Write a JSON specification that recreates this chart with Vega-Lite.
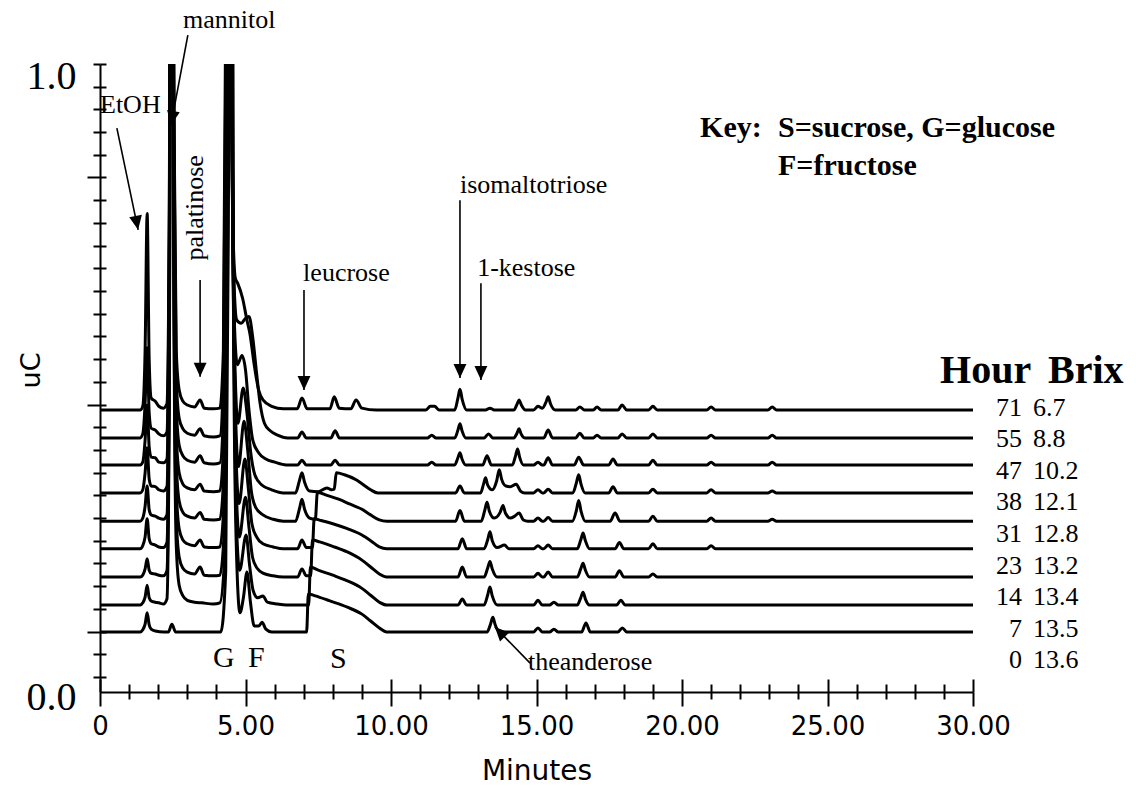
{
"$schema": "https://vega.github.io/schema/vega-lite/v6.json",
"autosize": {"type": "none"},
"width": 873, "height": 628,
"padding": {"left": 100, "top": 64, "right": 163, "bottom": 96},
"background": "white",
"config": {"view": {"stroke": null}, "axis": {"grid": false}},
"datasets": {
"traces": [
{"h":71,"t":0,"u":0.449},{"h":71,"t":1.38,"u":0.449},{"h":71,"t":1.47,"u":0.455},{"h":71,"t":1.55,"u":0.544},{"h":71,"t":1.62,"u":0.762},{"h":71,"t":1.69,"u":0.529},{"h":71,"t":1.76,"u":0.468},{"h":71,"t":1.9,"u":0.463},{"h":71,"t":2.02,"u":0.455},{"h":71,"t":2.18,"u":0.452},{"h":71,"t":2.3,"u":0.459},{"h":71,"t":2.38,"u":0.767},{"h":71,"t":2.46,"u":2.0},{"h":71,"t":2.54,"u":0.926},{"h":71,"t":2.62,"u":0.544},{"h":71,"t":2.72,"u":0.481},{"h":71,"t":2.85,"u":0.463},{"h":71,"t":3.0,"u":0.457},{"h":71,"t":3.25,"u":0.454},{"h":71,"t":3.44,"u":0.465},{"h":71,"t":3.58,"u":0.452},{"h":71,"t":3.9,"u":0.451},{"h":71,"t":4.12,"u":0.452},{"h":71,"t":4.24,"u":0.544},{"h":71,"t":4.32,"u":1.085},{"h":71,"t":4.41,"u":2.2},{"h":71,"t":4.5,"u":1.085},{"h":71,"t":4.58,"u":0.719},{"h":71,"t":4.65,"u":0.659},{"h":71,"t":4.73,"u":0.651},{"h":71,"t":4.9,"u":0.627},{"h":71,"t":5.05,"u":0.592},{"h":71,"t":5.15,"u":0.571},{"h":71,"t":5.3,"u":0.521},{"h":71,"t":5.45,"u":0.481},{"h":71,"t":5.6,"u":0.465},{"h":71,"t":5.9,"u":0.455},{"h":71,"t":6.3,"u":0.451},{"h":71,"t":6.78,"u":0.451},{"h":71,"t":6.94,"u":0.468},{"h":71,"t":7.12,"u":0.451},{"h":71,"t":7.9,"u":0.451},{"h":71,"t":8.05,"u":0.47},{"h":71,"t":8.22,"u":0.452},{"h":71,"t":8.62,"u":0.451},{"h":71,"t":8.8,"u":0.465},{"h":71,"t":9.0,"u":0.452},{"h":71,"t":9.5,"u":0.449},{"h":71,"t":11.2,"u":0.449},{"h":71,"t":11.35,"u":0.455},{"h":71,"t":11.5,"u":0.455},{"h":71,"t":11.65,"u":0.449},{"h":71,"t":12.19,"u":0.449},{"h":71,"t":12.3,"u":0.468},{"h":71,"t":12.37,"u":0.482},{"h":71,"t":12.45,"u":0.465},{"h":71,"t":12.6,"u":0.449},{"h":71,"t":13.25,"u":0.449},{"h":71,"t":13.4,"u":0.452},{"h":71,"t":13.55,"u":0.449},{"h":71,"t":14.22,"u":0.449},{"h":71,"t":14.33,"u":0.458},{"h":71,"t":14.4,"u":0.465},{"h":71,"t":14.48,"u":0.457},{"h":71,"t":14.62,"u":0.449},{"h":71,"t":14.9,"u":0.449},{"h":71,"t":15.05,"u":0.455},{"h":71,"t":15.2,"u":0.452},{"h":71,"t":15.33,"u":0.462},{"h":71,"t":15.4,"u":0.47},{"h":71,"t":15.48,"u":0.459},{"h":71,"t":15.65,"u":0.449},{"h":71,"t":16.35,"u":0.449},{"h":71,"t":16.49,"u":0.454},{"h":71,"t":16.65,"u":0.449},{"h":71,"t":16.95,"u":0.449},{"h":71,"t":17.08,"u":0.454},{"h":71,"t":17.22,"u":0.449},{"h":71,"t":17.8,"u":0.449},{"h":71,"t":17.94,"u":0.457},{"h":71,"t":18.1,"u":0.449},{"h":71,"t":18.85,"u":0.449},{"h":71,"t":19.0,"u":0.455},{"h":71,"t":19.15,"u":0.449},{"h":71,"t":20.85,"u":0.449},{"h":71,"t":21.0,"u":0.454},{"h":71,"t":21.15,"u":0.449},{"h":71,"t":22.95,"u":0.449},{"h":71,"t":23.1,"u":0.454},{"h":71,"t":23.25,"u":0.449},{"h":71,"t":30,"u":0.449},
{"h":55,"t":0,"u":0.4045},{"h":55,"t":1.38,"u":0.4045},{"h":55,"t":1.47,"u":0.411},{"h":55,"t":1.55,"u":0.46},{"h":55,"t":1.62,"u":0.548},{"h":55,"t":1.69,"u":0.444},{"h":55,"t":1.76,"u":0.42},{"h":55,"t":1.9,"u":0.417},{"h":55,"t":2.02,"u":0.411},{"h":55,"t":2.18,"u":0.408},{"h":55,"t":2.3,"u":0.414},{"h":55,"t":2.38,"u":0.723},{"h":55,"t":2.46,"u":2.0},{"h":55,"t":2.54,"u":0.882},{"h":55,"t":2.62,"u":0.5},{"h":55,"t":2.72,"u":0.436},{"h":55,"t":2.85,"u":0.419},{"h":55,"t":3.0,"u":0.412},{"h":55,"t":3.25,"u":0.409},{"h":55,"t":3.44,"u":0.419},{"h":55,"t":3.58,"u":0.408},{"h":55,"t":3.9,"u":0.406},{"h":55,"t":4.12,"u":0.408},{"h":55,"t":4.24,"u":0.5},{"h":55,"t":4.33,"u":1.04},{"h":55,"t":4.42,"u":2.2},{"h":55,"t":4.51,"u":1.04},{"h":55,"t":4.6,"u":0.659},{"h":55,"t":4.7,"u":0.592},{"h":55,"t":4.85,"u":0.587},{"h":55,"t":5.0,"u":0.595},{"h":55,"t":5.12,"u":0.598},{"h":55,"t":5.25,"u":0.564},{"h":55,"t":5.38,"u":0.508},{"h":55,"t":5.5,"u":0.46},{"h":55,"t":5.65,"u":0.428},{"h":55,"t":5.85,"u":0.416},{"h":55,"t":6.1,"u":0.409},{"h":55,"t":6.45,"u":0.4045},{"h":55,"t":6.79,"u":0.4045},{"h":55,"t":6.94,"u":0.414},{"h":55,"t":7.09,"u":0.4045},{"h":55,"t":7.93,"u":0.4045},{"h":55,"t":8.08,"u":0.416},{"h":55,"t":8.23,"u":0.4045},{"h":55,"t":11.25,"u":0.4045},{"h":55,"t":11.4,"u":0.409},{"h":55,"t":11.55,"u":0.4045},{"h":55,"t":12.19,"u":0.4045},{"h":55,"t":12.3,"u":0.417},{"h":55,"t":12.37,"u":0.427},{"h":55,"t":12.44,"u":0.416},{"h":55,"t":12.57,"u":0.4045},{"h":55,"t":13.2,"u":0.4045},{"h":55,"t":13.35,"u":0.411},{"h":55,"t":13.5,"u":0.4045},{"h":55,"t":14.22,"u":0.4045},{"h":55,"t":14.33,"u":0.412},{"h":55,"t":14.4,"u":0.419},{"h":55,"t":14.47,"u":0.411},{"h":55,"t":14.6,"u":0.4045},{"h":55,"t":15.25,"u":0.4045},{"h":55,"t":15.4,"u":0.417},{"h":55,"t":15.55,"u":0.4045},{"h":55,"t":16.34,"u":0.4045},{"h":55,"t":16.49,"u":0.412},{"h":55,"t":16.64,"u":0.4045},{"h":55,"t":16.95,"u":0.4045},{"h":55,"t":17.08,"u":0.409},{"h":55,"t":17.22,"u":0.4045},{"h":55,"t":17.8,"u":0.4045},{"h":55,"t":17.94,"u":0.411},{"h":55,"t":18.1,"u":0.4045},{"h":55,"t":18.85,"u":0.4045},{"h":55,"t":19.0,"u":0.411},{"h":55,"t":19.15,"u":0.4045},{"h":55,"t":20.85,"u":0.4045},{"h":55,"t":21.0,"u":0.409},{"h":55,"t":21.15,"u":0.4045},{"h":55,"t":22.95,"u":0.4045},{"h":55,"t":23.1,"u":0.409},{"h":55,"t":23.25,"u":0.4045},{"h":55,"t":30,"u":0.4045},
{"h":47,"t":0,"u":0.3615},{"h":47,"t":1.38,"u":0.3615},{"h":47,"t":1.47,"u":0.366},{"h":47,"t":1.55,"u":0.401},{"h":47,"t":1.62,"u":0.457},{"h":47,"t":1.69,"u":0.39},{"h":47,"t":1.76,"u":0.374},{"h":47,"t":1.9,"u":0.373},{"h":47,"t":2.02,"u":0.366},{"h":47,"t":2.18,"u":0.365},{"h":47,"t":2.3,"u":0.371},{"h":47,"t":2.38,"u":0.68},{"h":47,"t":2.46,"u":2.0},{"h":47,"t":2.54,"u":0.839},{"h":47,"t":2.62,"u":0.457},{"h":47,"t":2.72,"u":0.393},{"h":47,"t":2.85,"u":0.376},{"h":47,"t":3.0,"u":0.369},{"h":47,"t":3.25,"u":0.366},{"h":47,"t":3.44,"u":0.376},{"h":47,"t":3.58,"u":0.365},{"h":47,"t":3.9,"u":0.363},{"h":47,"t":4.12,"u":0.365},{"h":47,"t":4.25,"u":0.457},{"h":47,"t":4.34,"u":0.998},{"h":47,"t":4.43,"u":2.2},{"h":47,"t":4.52,"u":0.998},{"h":47,"t":4.61,"u":0.6},{"h":47,"t":4.72,"u":0.521},{"h":47,"t":4.88,"u":0.536},{"h":47,"t":5.0,"u":0.513},{"h":47,"t":5.12,"u":0.449},{"h":47,"t":5.25,"u":0.401},{"h":47,"t":5.45,"u":0.381},{"h":47,"t":5.7,"u":0.371},{"h":47,"t":6.0,"u":0.366},{"h":47,"t":6.4,"u":0.3615},{"h":47,"t":6.79,"u":0.3615},{"h":47,"t":6.94,"u":0.369},{"h":47,"t":7.09,"u":0.3615},{"h":47,"t":7.93,"u":0.3615},{"h":47,"t":8.08,"u":0.369},{"h":47,"t":8.23,"u":0.3615},{"h":47,"t":11.25,"u":0.3615},{"h":47,"t":11.4,"u":0.366},{"h":47,"t":11.55,"u":0.3615},{"h":47,"t":12.19,"u":0.3615},{"h":47,"t":12.3,"u":0.373},{"h":47,"t":12.37,"u":0.381},{"h":47,"t":12.44,"u":0.371},{"h":47,"t":12.57,"u":0.3615},{"h":47,"t":13.15,"u":0.3615},{"h":47,"t":13.3,"u":0.376},{"h":47,"t":13.45,"u":0.3615},{"h":47,"t":14.17,"u":0.3615},{"h":47,"t":14.28,"u":0.376},{"h":47,"t":14.35,"u":0.387},{"h":47,"t":14.42,"u":0.374},{"h":47,"t":14.55,"u":0.3615},{"h":47,"t":14.9,"u":0.3615},{"h":47,"t":15.05,"u":0.366},{"h":47,"t":15.2,"u":0.3615},{"h":47,"t":15.25,"u":0.3615},{"h":47,"t":15.4,"u":0.373},{"h":47,"t":15.55,"u":0.3615},{"h":47,"t":16.3,"u":0.3615},{"h":47,"t":16.45,"u":0.374},{"h":47,"t":16.62,"u":0.3615},{"h":47,"t":17.48,"u":0.3615},{"h":47,"t":17.63,"u":0.371},{"h":47,"t":17.78,"u":0.3615},{"h":47,"t":18.85,"u":0.3615},{"h":47,"t":19.0,"u":0.369},{"h":47,"t":19.15,"u":0.3615},{"h":47,"t":20.85,"u":0.3615},{"h":47,"t":21.0,"u":0.366},{"h":47,"t":21.15,"u":0.3615},{"h":47,"t":22.95,"u":0.3615},{"h":47,"t":23.1,"u":0.366},{"h":47,"t":23.25,"u":0.3615},{"h":47,"t":30,"u":0.3615},
{"h":38,"t":0,"u":0.317},{"h":38,"t":1.38,"u":0.317},{"h":38,"t":1.47,"u":0.322},{"h":38,"t":1.55,"u":0.349},{"h":38,"t":1.62,"u":0.389},{"h":38,"t":1.69,"u":0.339},{"h":38,"t":1.76,"u":0.328},{"h":38,"t":1.9,"u":0.327},{"h":38,"t":2.02,"u":0.322},{"h":38,"t":2.18,"u":0.32},{"h":38,"t":2.3,"u":0.327},{"h":38,"t":2.38,"u":0.635},{"h":38,"t":2.46,"u":2.0},{"h":38,"t":2.54,"u":0.794},{"h":38,"t":2.62,"u":0.412},{"h":38,"t":2.72,"u":0.349},{"h":38,"t":2.85,"u":0.331},{"h":38,"t":3.0,"u":0.325},{"h":38,"t":3.25,"u":0.322},{"h":38,"t":3.44,"u":0.331},{"h":38,"t":3.58,"u":0.32},{"h":38,"t":3.9,"u":0.319},{"h":38,"t":4.12,"u":0.32},{"h":38,"t":4.26,"u":0.412},{"h":38,"t":4.35,"u":0.953},{"h":38,"t":4.44,"u":2.2},{"h":38,"t":4.53,"u":0.953},{"h":38,"t":4.62,"u":0.556},{"h":38,"t":4.74,"u":0.428},{"h":38,"t":4.92,"u":0.484},{"h":38,"t":5.05,"u":0.444},{"h":38,"t":5.18,"u":0.381},{"h":38,"t":5.32,"u":0.346},{"h":38,"t":5.55,"u":0.33},{"h":38,"t":5.9,"u":0.322},{"h":38,"t":6.3,"u":0.317},{"h":38,"t":6.72,"u":0.317},{"h":38,"t":6.85,"u":0.336},{"h":38,"t":6.94,"u":0.349},{"h":38,"t":7.03,"u":0.334},{"h":38,"t":7.2,"u":0.32},{"h":38,"t":7.5,"u":0.319},{"h":38,"t":7.8,"u":0.325},{"h":38,"t":7.95,"u":0.322},{"h":38,"t":8.05,"u":0.323},{"h":38,"t":8.12,"u":0.349},{"h":38,"t":8.4,"u":0.346},{"h":38,"t":8.8,"u":0.338},{"h":38,"t":9.05,"u":0.33},{"h":38,"t":9.3,"u":0.322},{"h":38,"t":9.55,"u":0.317},{"h":38,"t":12.22,"u":0.317},{"h":38,"t":12.37,"u":0.328},{"h":38,"t":12.52,"u":0.317},{"h":38,"t":13.08,"u":0.317},{"h":38,"t":13.18,"u":0.331},{"h":38,"t":13.25,"u":0.341},{"h":38,"t":13.32,"u":0.33},{"h":38,"t":13.48,"u":0.322},{"h":38,"t":13.63,"u":0.336},{"h":38,"t":13.72,"u":0.354},{"h":38,"t":13.8,"u":0.339},{"h":38,"t":13.95,"u":0.328},{"h":38,"t":14.1,"u":0.327},{"h":38,"t":14.3,"u":0.331},{"h":38,"t":14.45,"u":0.32},{"h":38,"t":14.6,"u":0.317},{"h":38,"t":14.9,"u":0.317},{"h":38,"t":15.05,"u":0.322},{"h":38,"t":15.2,"u":0.317},{"h":38,"t":15.25,"u":0.317},{"h":38,"t":15.4,"u":0.323},{"h":38,"t":15.55,"u":0.317},{"h":38,"t":16.25,"u":0.317},{"h":38,"t":16.37,"u":0.333},{"h":38,"t":16.45,"u":0.346},{"h":38,"t":16.53,"u":0.331},{"h":38,"t":16.67,"u":0.317},{"h":38,"t":17.48,"u":0.317},{"h":38,"t":17.63,"u":0.327},{"h":38,"t":17.78,"u":0.317},{"h":38,"t":18.85,"u":0.317},{"h":38,"t":19.0,"u":0.323},{"h":38,"t":19.15,"u":0.317},{"h":38,"t":20.85,"u":0.317},{"h":38,"t":21.0,"u":0.322},{"h":38,"t":21.15,"u":0.317},{"h":38,"t":22.95,"u":0.317},{"h":38,"t":23.1,"u":0.32},{"h":38,"t":23.25,"u":0.317},{"h":38,"t":30,"u":0.317},
{"h":31,"t":0,"u":0.272},{"h":31,"t":1.38,"u":0.272},{"h":31,"t":1.47,"u":0.277},{"h":31,"t":1.55,"u":0.296},{"h":31,"t":1.62,"u":0.328},{"h":31,"t":1.69,"u":0.29},{"h":31,"t":1.76,"u":0.282},{"h":31,"t":1.9,"u":0.28},{"h":31,"t":2.02,"u":0.277},{"h":31,"t":2.18,"u":0.275},{"h":31,"t":2.3,"u":0.282},{"h":31,"t":2.38,"u":0.59},{"h":31,"t":2.46,"u":2.0},{"h":31,"t":2.54,"u":0.749},{"h":31,"t":2.62,"u":0.367},{"h":31,"t":2.72,"u":0.304},{"h":31,"t":2.85,"u":0.286},{"h":31,"t":3.0,"u":0.28},{"h":31,"t":3.25,"u":0.277},{"h":31,"t":3.44,"u":0.286},{"h":31,"t":3.58,"u":0.275},{"h":31,"t":3.9,"u":0.274},{"h":31,"t":4.12,"u":0.275},{"h":31,"t":4.27,"u":0.367},{"h":31,"t":4.36,"u":0.908},{"h":31,"t":4.45,"u":2.2},{"h":31,"t":4.54,"u":0.908},{"h":31,"t":4.63,"u":0.495},{"h":31,"t":4.76,"u":0.359},{"h":31,"t":4.95,"u":0.431},{"h":31,"t":5.08,"u":0.383},{"h":31,"t":5.2,"u":0.32},{"h":31,"t":5.35,"u":0.294},{"h":31,"t":5.6,"u":0.282},{"h":31,"t":5.95,"u":0.275},{"h":31,"t":6.3,"u":0.272},{"h":31,"t":6.72,"u":0.272},{"h":31,"t":6.86,"u":0.293},{"h":31,"t":6.94,"u":0.307},{"h":31,"t":7.03,"u":0.291},{"h":31,"t":7.2,"u":0.277},{"h":31,"t":7.4,"u":0.275},{"h":31,"t":7.47,"u":0.318},{"h":31,"t":7.8,"u":0.313},{"h":31,"t":8.2,"u":0.307},{"h":31,"t":8.6,"u":0.299},{"h":31,"t":9.0,"u":0.291},{"h":31,"t":9.3,"u":0.282},{"h":31,"t":9.6,"u":0.274},{"h":31,"t":9.85,"u":0.272},{"h":31,"t":12.22,"u":0.272},{"h":31,"t":12.37,"u":0.289},{"h":31,"t":12.52,"u":0.272},{"h":31,"t":13.1,"u":0.272},{"h":31,"t":13.22,"u":0.289},{"h":31,"t":13.3,"u":0.302},{"h":31,"t":13.38,"u":0.288},{"h":31,"t":13.55,"u":0.277},{"h":31,"t":13.75,"u":0.286},{"h":31,"t":13.85,"u":0.297},{"h":31,"t":13.93,"u":0.285},{"h":31,"t":14.1,"u":0.277},{"h":31,"t":14.25,"u":0.28},{"h":31,"t":14.4,"u":0.285},{"h":31,"t":14.55,"u":0.274},{"h":31,"t":14.7,"u":0.272},{"h":31,"t":14.9,"u":0.272},{"h":31,"t":15.05,"u":0.277},{"h":31,"t":15.2,"u":0.272},{"h":31,"t":15.25,"u":0.272},{"h":31,"t":15.4,"u":0.278},{"h":31,"t":15.55,"u":0.272},{"h":31,"t":16.23,"u":0.272},{"h":31,"t":16.37,"u":0.289},{"h":31,"t":16.45,"u":0.305},{"h":31,"t":16.53,"u":0.288},{"h":31,"t":16.68,"u":0.272},{"h":31,"t":17.53,"u":0.272},{"h":31,"t":17.7,"u":0.285},{"h":31,"t":17.87,"u":0.272},{"h":31,"t":18.85,"u":0.272},{"h":31,"t":19.0,"u":0.28},{"h":31,"t":19.15,"u":0.272},{"h":31,"t":20.85,"u":0.272},{"h":31,"t":21.0,"u":0.277},{"h":31,"t":21.15,"u":0.272},{"h":31,"t":22.95,"u":0.272},{"h":31,"t":23.1,"u":0.275},{"h":31,"t":23.25,"u":0.272},{"h":31,"t":30,"u":0.272},
{"h":23,"t":0,"u":0.228},{"h":23,"t":1.38,"u":0.228},{"h":23,"t":1.47,"u":0.233},{"h":23,"t":1.55,"u":0.247},{"h":23,"t":1.62,"u":0.276},{"h":23,"t":1.69,"u":0.244},{"h":23,"t":1.76,"u":0.236},{"h":23,"t":1.9,"u":0.234},{"h":23,"t":2.02,"u":0.231},{"h":23,"t":2.18,"u":0.23},{"h":23,"t":2.3,"u":0.238},{"h":23,"t":2.38,"u":0.546},{"h":23,"t":2.46,"u":2.0},{"h":23,"t":2.54,"u":0.705},{"h":23,"t":2.62,"u":0.323},{"h":23,"t":2.72,"u":0.26},{"h":23,"t":2.85,"u":0.242},{"h":23,"t":3.0,"u":0.236},{"h":23,"t":3.25,"u":0.233},{"h":23,"t":3.44,"u":0.242},{"h":23,"t":3.58,"u":0.231},{"h":23,"t":3.9,"u":0.23},{"h":23,"t":4.12,"u":0.231},{"h":23,"t":4.28,"u":0.323},{"h":23,"t":4.37,"u":0.864},{"h":23,"t":4.46,"u":2.2},{"h":23,"t":4.55,"u":0.864},{"h":23,"t":4.64,"u":0.435},{"h":23,"t":4.78,"u":0.3},{"h":23,"t":4.98,"u":0.371},{"h":23,"t":5.1,"u":0.323},{"h":23,"t":5.22,"u":0.268},{"h":23,"t":5.38,"u":0.247},{"h":23,"t":5.6,"u":0.236},{"h":23,"t":5.95,"u":0.231},{"h":23,"t":6.3,"u":0.228},{"h":23,"t":6.79,"u":0.228},{"h":23,"t":6.94,"u":0.242},{"h":23,"t":7.09,"u":0.23},{"h":23,"t":7.3,"u":0.23},{"h":23,"t":7.36,"u":0.276},{"h":23,"t":7.6,"u":0.273},{"h":23,"t":8.0,"u":0.268},{"h":23,"t":8.5,"u":0.26},{"h":23,"t":9.0,"u":0.25},{"h":23,"t":9.3,"u":0.241},{"h":23,"t":9.6,"u":0.231},{"h":23,"t":9.85,"u":0.228},{"h":23,"t":12.3,"u":0.228},{"h":23,"t":12.45,"u":0.244},{"h":23,"t":12.6,"u":0.228},{"h":23,"t":13.2,"u":0.228},{"h":23,"t":13.32,"u":0.242},{"h":23,"t":13.4,"u":0.255},{"h":23,"t":13.48,"u":0.241},{"h":23,"t":13.65,"u":0.23},{"h":23,"t":13.9,"u":0.234},{"h":23,"t":14.05,"u":0.228},{"h":23,"t":14.9,"u":0.228},{"h":23,"t":15.05,"u":0.233},{"h":23,"t":15.2,"u":0.228},{"h":23,"t":15.25,"u":0.228},{"h":23,"t":15.4,"u":0.234},{"h":23,"t":15.55,"u":0.228},{"h":23,"t":16.4,"u":0.228},{"h":23,"t":16.52,"u":0.242},{"h":23,"t":16.6,"u":0.253},{"h":23,"t":16.68,"u":0.241},{"h":23,"t":16.82,"u":0.228},{"h":23,"t":17.7,"u":0.228},{"h":23,"t":17.85,"u":0.238},{"h":23,"t":18.0,"u":0.228},{"h":23,"t":18.85,"u":0.228},{"h":23,"t":19.0,"u":0.236},{"h":23,"t":19.15,"u":0.228},{"h":23,"t":20.85,"u":0.228},{"h":23,"t":21.0,"u":0.233},{"h":23,"t":21.15,"u":0.228},{"h":23,"t":30,"u":0.228},
{"h":14,"t":0,"u":0.183},{"h":14,"t":1.38,"u":0.183},{"h":14,"t":1.47,"u":0.186},{"h":14,"t":1.55,"u":0.196},{"h":14,"t":1.62,"u":0.212},{"h":14,"t":1.69,"u":0.194},{"h":14,"t":1.76,"u":0.189},{"h":14,"t":1.9,"u":0.188},{"h":14,"t":2.02,"u":0.186},{"h":14,"t":2.18,"u":0.185},{"h":14,"t":2.3,"u":0.193},{"h":14,"t":2.38,"u":0.501},{"h":14,"t":2.46,"u":2.0},{"h":14,"t":2.54,"u":0.66},{"h":14,"t":2.62,"u":0.278},{"h":14,"t":2.72,"u":0.215},{"h":14,"t":2.85,"u":0.197},{"h":14,"t":3.0,"u":0.191},{"h":14,"t":3.25,"u":0.188},{"h":14,"t":3.44,"u":0.199},{"h":14,"t":3.58,"u":0.186},{"h":14,"t":3.9,"u":0.185},{"h":14,"t":4.12,"u":0.186},{"h":14,"t":4.29,"u":0.278},{"h":14,"t":4.38,"u":0.819},{"h":14,"t":4.47,"u":2.2},{"h":14,"t":4.56,"u":0.819},{"h":14,"t":4.65,"u":0.374},{"h":14,"t":4.79,"u":0.247},{"h":14,"t":5.0,"u":0.31},{"h":14,"t":5.12,"u":0.262},{"h":14,"t":5.24,"u":0.215},{"h":14,"t":5.4,"u":0.197},{"h":14,"t":5.62,"u":0.189},{"h":14,"t":5.95,"u":0.185},{"h":14,"t":6.3,"u":0.183},{"h":14,"t":6.79,"u":0.183},{"h":14,"t":6.94,"u":0.196},{"h":14,"t":7.09,"u":0.185},{"h":14,"t":7.24,"u":0.185},{"h":14,"t":7.3,"u":0.242},{"h":14,"t":7.55,"u":0.239},{"h":14,"t":8.0,"u":0.232},{"h":14,"t":8.5,"u":0.223},{"h":14,"t":9.0,"u":0.21},{"h":14,"t":9.3,"u":0.199},{"h":14,"t":9.6,"u":0.188},{"h":14,"t":9.85,"u":0.183},{"h":14,"t":12.3,"u":0.183},{"h":14,"t":12.45,"u":0.199},{"h":14,"t":12.6,"u":0.183},{"h":14,"t":13.2,"u":0.183},{"h":14,"t":13.32,"u":0.197},{"h":14,"t":13.4,"u":0.208},{"h":14,"t":13.48,"u":0.196},{"h":14,"t":13.65,"u":0.183},{"h":14,"t":14.9,"u":0.183},{"h":14,"t":15.05,"u":0.189},{"h":14,"t":15.2,"u":0.183},{"h":14,"t":15.25,"u":0.183},{"h":14,"t":15.4,"u":0.191},{"h":14,"t":15.55,"u":0.183},{"h":14,"t":16.4,"u":0.183},{"h":14,"t":16.52,"u":0.196},{"h":14,"t":16.6,"u":0.205},{"h":14,"t":16.68,"u":0.194},{"h":14,"t":16.82,"u":0.183},{"h":14,"t":17.7,"u":0.183},{"h":14,"t":17.85,"u":0.193},{"h":14,"t":18.0,"u":0.183},{"h":14,"t":18.85,"u":0.183},{"h":14,"t":19.0,"u":0.188},{"h":14,"t":19.15,"u":0.183},{"h":14,"t":30,"u":0.183},
{"h":7,"t":0,"u":0.1385},{"h":7,"t":1.38,"u":0.1385},{"h":7,"t":1.47,"u":0.142},{"h":7,"t":1.55,"u":0.151},{"h":7,"t":1.62,"u":0.17},{"h":7,"t":1.69,"u":0.15},{"h":7,"t":1.76,"u":0.145},{"h":7,"t":1.9,"u":0.143},{"h":7,"t":2.02,"u":0.142},{"h":7,"t":2.18,"u":0.14},{"h":7,"t":2.3,"u":0.148},{"h":7,"t":2.38,"u":0.457},{"h":7,"t":2.46,"u":2.0},{"h":7,"t":2.54,"u":0.616},{"h":7,"t":2.62,"u":0.234},{"h":7,"t":2.72,"u":0.17},{"h":7,"t":2.85,"u":0.153},{"h":7,"t":3.0,"u":0.146},{"h":7,"t":3.25,"u":0.143},{"h":7,"t":3.5,"u":0.142},{"h":7,"t":3.9,"u":0.14},{"h":7,"t":4.12,"u":0.142},{"h":7,"t":4.3,"u":0.234},{"h":7,"t":4.39,"u":0.775},{"h":7,"t":4.48,"u":2.2},{"h":7,"t":4.57,"u":0.775},{"h":7,"t":4.66,"u":0.313},{"h":7,"t":4.8,"u":0.194},{"h":7,"t":5.02,"u":0.25},{"h":7,"t":5.14,"u":0.202},{"h":7,"t":5.26,"u":0.162},{"h":7,"t":5.42,"u":0.15},{"h":7,"t":5.6,"u":0.153},{"h":7,"t":5.75,"u":0.143},{"h":7,"t":6.1,"u":0.14},{"h":7,"t":6.4,"u":0.1385},{"h":7,"t":7.17,"u":0.1385},{"h":7,"t":7.23,"u":0.199},{"h":7,"t":7.5,"u":0.194},{"h":7,"t":8.0,"u":0.186},{"h":7,"t":8.5,"u":0.177},{"h":7,"t":9.0,"u":0.165},{"h":7,"t":9.3,"u":0.154},{"h":7,"t":9.6,"u":0.143},{"h":7,"t":9.85,"u":0.1385},{"h":7,"t":12.3,"u":0.1385},{"h":7,"t":12.45,"u":0.148},{"h":7,"t":12.6,"u":0.1385},{"h":7,"t":13.2,"u":0.1385},{"h":7,"t":13.32,"u":0.154},{"h":7,"t":13.4,"u":0.167},{"h":7,"t":13.48,"u":0.153},{"h":7,"t":13.65,"u":0.1385},{"h":7,"t":14.9,"u":0.1385},{"h":7,"t":15.05,"u":0.146},{"h":7,"t":15.2,"u":0.1385},{"h":7,"t":15.45,"u":0.1385},{"h":7,"t":15.6,"u":0.143},{"h":7,"t":15.75,"u":0.1385},{"h":7,"t":16.4,"u":0.1385},{"h":7,"t":16.52,"u":0.15},{"h":7,"t":16.6,"u":0.159},{"h":7,"t":16.68,"u":0.148},{"h":7,"t":16.82,"u":0.1385},{"h":7,"t":17.75,"u":0.1385},{"h":7,"t":17.9,"u":0.146},{"h":7,"t":18.05,"u":0.1385},{"h":7,"t":30,"u":0.1385},
{"h":0,"t":0,"u":0.0955},{"h":0,"t":1.38,"u":0.0955},{"h":0,"t":1.47,"u":0.099},{"h":0,"t":1.55,"u":0.108},{"h":0,"t":1.62,"u":0.126},{"h":0,"t":1.69,"u":0.107},{"h":0,"t":1.76,"u":0.1},{"h":0,"t":1.9,"u":0.097},{"h":0,"t":2.2,"u":0.0955},{"h":0,"t":2.35,"u":0.0955},{"h":0,"t":2.47,"u":0.108},{"h":0,"t":2.6,"u":0.0955},{"h":0,"t":4.15,"u":0.0955},{"h":0,"t":4.32,"u":0.191},{"h":0,"t":4.41,"u":0.732},{"h":0,"t":4.5,"u":2.2},{"h":0,"t":4.59,"u":0.573},{"h":0,"t":4.68,"u":0.239},{"h":0,"t":4.81,"u":0.126},{"h":0,"t":4.93,"u":0.151},{"h":0,"t":5.05,"u":0.191},{"h":0,"t":5.17,"u":0.143},{"h":0,"t":5.3,"u":0.105},{"h":0,"t":5.45,"u":0.105},{"h":0,"t":5.57,"u":0.111},{"h":0,"t":5.7,"u":0.1},{"h":0,"t":5.9,"u":0.0955},{"h":0,"t":7.1,"u":0.0955},{"h":0,"t":7.16,"u":0.156},{"h":0,"t":7.4,"u":0.153},{"h":0,"t":7.9,"u":0.145},{"h":0,"t":8.5,"u":0.135},{"h":0,"t":9.0,"u":0.124},{"h":0,"t":9.3,"u":0.113},{"h":0,"t":9.6,"u":0.102},{"h":0,"t":9.85,"u":0.0955},{"h":0,"t":13.3,"u":0.0955},{"h":0,"t":13.42,"u":0.108},{"h":0,"t":13.5,"u":0.119},{"h":0,"t":13.58,"u":0.107},{"h":0,"t":13.75,"u":0.0955},{"h":0,"t":14.9,"u":0.0955},{"h":0,"t":15.05,"u":0.102},{"h":0,"t":15.2,"u":0.0955},{"h":0,"t":15.45,"u":0.0955},{"h":0,"t":15.6,"u":0.1},{"h":0,"t":15.75,"u":0.0955},{"h":0,"t":16.55,"u":0.0955},{"h":0,"t":16.7,"u":0.11},{"h":0,"t":16.85,"u":0.0955},{"h":0,"t":17.8,"u":0.0955},{"h":0,"t":17.95,"u":0.102},{"h":0,"t":18.1,"u":0.0955},{"h":0,"t":30,"u":0.0955}
]
},
"resolve": {"axis": {"x": "independent", "y": "independent"}},
"layer": [
{
"data": {"name": "traces"},
"mark": {"type": "line", "color": "black", "strokeWidth": 3, "interpolate": "monotone", "clip": true, "strokeJoin": "round", "strokeCap": "round"},
"encoding": {
"x": {"field": "t", "type": "quantitative", "scale": {"domain": [0, 30], "nice": false, "zero": false},
 "axis": {"orient": "bottom", "values": [0,1,2,3,4,5,6,7,8,9,10,11,12,13,14,15,16,17,18,19,20,21,22,23,24,25,26,27,28,29,30],
  "labelExpr": "datum.value == 0 ? '0' : (datum.value % 5 == 0 ? format(datum.value, '.2f') : '')",
  "tickSize": {"condition": {"test": "datum.value % 5 == 0", "value": 14}, "value": 7},
  "tickColor": "black", "tickWidth": 2, "domainColor": "black", "domainWidth": 2,
  "labelFont": "DejaVu Sans", "labelFontSize": 26, "labelColor": "black", "labelPadding": 7, "labelFlush": false, "labelOverlap": false, "labelBound": false,
  "title": "Minutes", "titleFont": "DejaVu Sans", "titleFontSize": 28, "titleFontWeight": "normal", "titleColor": "black", "titleY": 79, "titleBaseline": "middle"}},
"y": {"field": "u", "type": "quantitative", "scale": {"domain": [0, 1], "nice": false, "zero": false},
 "axis": {"orient": "left", "values": [0,0.024,0.0601,0.0963,0.1324,0.1686,0.2047,0.2409,0.277,0.3132,0.3493,0.3855,0.4216,0.4578,0.4939,0.5301,0.5662,0.6024,0.6385,0.6747,0.7108,0.747,0.7831,0.8193,0.8554,0.8916,0.9277,0.9639,1],
  "labelExpr": "datum.value == 1 ? '1.0' : (datum.value == 0 ? '0.0' : '')",
  "tickSize": {"condition": {"test": "datum.value == 0.0963 || datum.value == 0.4578 || datum.value == 0.8193", "value": 13}, "value": 7},
  "tickOpacity": {"condition": {"test": "datum.value == 0", "value": 0}, "value": 1},
  "labelOffset": {"condition": {"test": "datum.value == 1", "value": 12}, "value": 5},
  "tickColor": "black", "tickWidth": 2, "domainColor": "black", "domainWidth": 2,
  "labelFont": "Liberation Serif", "labelFontSize": 40, "labelColor": "black", "labelPadding": 17, "labelOverlap": false, "labelBound": false, "labelFlush": false,
  "title": "uC", "titleFont": "DejaVu Sans", "titleFontSize": 27, "titleFontWeight": "normal", "titleColor": "black", "titleX": -69, "titleY": 306, "titleAngle": 270, "titleAlign": "center", "titleBaseline": "middle"}},
"detail": {"field": "h", "type": "nominal"},
"order": {"field": "t", "type": "quantitative"}
}
},
{
"data": {"values": [
{"x":0.58,"y":0.898,"x2":1.31,"y2":0.736},
{"x":3.02,"y":1.046,"x2":2.44,"y2":0.903},
{"x":3.44,"y":0.656,"x2":3.44,"y2":0.502},
{"x":7.01,"y":0.64,"x2":7.01,"y2":0.481},
{"x":12.37,"y":0.783,"x2":12.37,"y2":0.5},
{"x":13.09,"y":0.651,"x2":13.09,"y2":0.497},
{"x":14.78,"y":0.046,"x2":13.57,"y2":0.1035}
]},
"mark": {"type": "rule", "color": "black", "strokeWidth": 1.6},
"encoding": {
"x": {"field": "x", "type": "quantitative", "scale": {"domain": [0, 30], "nice": false, "zero": false},
 "axis": {"orient": "bottom", "values": [0,1,2,3,4,5,6,7,8,9,10,11,12,13,14,15,16,17,18,19,20,21,22,23,24,25,26,27,28,29,30], "labels": false, "domain": false, "title": null,
  "tickSize": {"condition": {"test": "datum.value % 5 == 0", "value": -13}, "value": -8}, "tickColor": "black", "tickWidth": 2}},
"y": {"field": "y", "type": "quantitative", "scale": {"domain": [0, 1], "nice": false, "zero": false},
 "axis": {"orient": "left", "values": [0.024,0.0601,0.0963,0.1324,0.1686,0.2047,0.2409,0.277,0.3132,0.3493,0.3855,0.4216,0.4578,0.4939,0.5301,0.5662,0.6024,0.6385,0.6747,0.7108,0.747,0.7831,0.8193,0.8554,0.8916,0.9277,0.9639,1], "labels": false, "domain": false, "title": null, "tickSize": -6, "tickColor": "black", "tickWidth": 2}},
"x2": {"field": "x2"},
"y2": {"field": "y2"}
}
},
{
"data": {"values": [{"x":3.44,"y":0.502},{"x":7.01,"y":0.481},{"x":12.37,"y":0.5},{"x":13.09,"y":0.497}]},
"mark": {"type": "point", "shape": "M0,0L-0.46,-1L0.46,-1Z", "size": 784, "filled": true, "color": "black", "opacity": 1, "strokeWidth": 0},
"encoding": {"x": {"field": "x", "type": "quantitative", "axis": null}, "y": {"field": "y", "type": "quantitative", "axis": null}}
},
{
"data": {"values": [{"x":1.31,"y":0.736}]},
"mark": {"type": "point", "shape": "M0,0L-0.46,-1L0.46,-1Z", "size": 784, "filled": true, "color": "black", "opacity": 1, "strokeWidth": 0, "angle": -10.5},
"encoding": {"x": {"field": "x", "type": "quantitative", "axis": null}, "y": {"field": "y", "type": "quantitative", "axis": null}}
},
{
"data": {"values": [{"x":2.44,"y":0.903}]},
"mark": {"type": "point", "shape": "M0,0L-0.46,-1L0.46,-1Z", "size": 784, "filled": true, "color": "black", "opacity": 1, "strokeWidth": 0, "angle": 10},
"encoding": {"x": {"field": "x", "type": "quantitative", "axis": null}, "y": {"field": "y", "type": "quantitative", "axis": null}}
},
{
"data": {"values": [{"x":13.57,"y":0.1035}]},
"mark": {"type": "point", "shape": "M0,0L-0.46,-1L0.46,-1Z", "size": 784, "filled": true, "color": "black", "opacity": 1, "strokeWidth": 0, "angle": 136},
"encoding": {"x": {"field": "x", "type": "quantitative", "axis": null}, "y": {"field": "y", "type": "quantitative", "axis": null}}
},
{
"data": {"values": [
{"text":"mannitol","x":2.85,"y":1.057},
{"text":"EtOH","x":0.0,"y":0.922},
{"text":"leucrose","x":6.98,"y":0.654},
{"text":"isomaltotriose","x":12.37,"y":0.795},
{"text":"1-kestose","x":12.96,"y":0.662},
{"text":"theanderose","x":14.71,"y":0.035}
]},
"mark": {"type": "text", "font": "Liberation Serif", "fontSize": 26, "align": "left", "baseline": "alphabetic", "color": "black"},
"encoding": {"x": {"field": "x", "type": "quantitative", "axis": null}, "y": {"field": "y", "type": "quantitative", "axis": null}, "text": {"field": "text"}}
},
{
"data": {"values": [{"text":"palatinose","x":3.54,"y":0.771}]},
"mark": {"type": "text", "font": "Liberation Serif", "fontSize": 26, "align": "center", "baseline": "alphabetic", "angle": 270, "color": "black"},
"encoding": {"x": {"field": "x", "type": "quantitative", "axis": null}, "y": {"field": "y", "type": "quantitative", "axis": null}, "text": {"field": "text"}}
},
{
"data": {"values": [{"text":"G","x":3.88,"y":0.04},{"text":"F","x":5.09,"y":0.04},{"text":"S","x":7.9,"y":0.038}]},
"mark": {"type": "text", "font": "Liberation Serif", "fontSize": 30, "align": "left", "baseline": "alphabetic", "color": "black"},
"encoding": {"x": {"field": "x", "type": "quantitative", "axis": null}, "y": {"field": "y", "type": "quantitative", "axis": null}, "text": {"field": "text"}}
},
{
"data": {"values": [{"text":"Key:","x":20.62,"y":0.884},{"text":"S=sucrose, G=glucose","x":23.3,"y":0.884},{"text":"F=fructose","x":23.3,"y":0.823}]},
"mark": {"type": "text", "font": "Liberation Serif", "fontSize": 30, "fontWeight": "bold", "align": "left", "baseline": "alphabetic", "color": "black"},
"encoding": {"x": {"field": "x", "type": "quantitative", "axis": null}, "y": {"field": "y", "type": "quantitative", "axis": null}, "text": {"field": "text"}}
},
{
"data": {"values": [{"text":"Hour","x":28.87,"y":0.492},{"text":"Brix","x":32.58,"y":0.492}]},
"mark": {"type": "text", "font": "Liberation Serif", "fontSize": 40, "fontWeight": "bold", "align": "left", "baseline": "alphabetic", "color": "black"},
"encoding": {"x": {"field": "x", "type": "quantitative", "axis": null}, "y": {"field": "y", "type": "quantitative", "axis": null}, "text": {"field": "text"}}
},
{
"data": {"values": [
{"hour":"71","brix":"6.7","y":0.4522},
{"hour":"55","brix":"8.8","y":0.4021},
{"hour":"47","brix":"10.2","y":0.3519},
{"hour":"38","brix":"12.1","y":0.3018},
{"hour":"31","brix":"12.8","y":0.2516},
{"hour":"23","brix":"13.2","y":0.2014},
{"hour":"14","brix":"13.4","y":0.1513},
{"hour":"7","brix":"13.5","y":0.1011},
{"hour":"0","brix":"13.6","y":0.051}
]},
"mark": {"type": "text", "font": "Liberation Serif", "fontSize": 26, "align": "right", "baseline": "middle", "color": "black"},
"encoding": {"x": {"datum": 31.68, "type": "quantitative", "axis": null}, "y": {"field": "y", "type": "quantitative", "axis": null}, "text": {"field": "hour"}}
},
{
"data": {"values": [
{"hour":"71","brix":"6.7","y":0.4522},
{"hour":"55","brix":"8.8","y":0.4021},
{"hour":"47","brix":"10.2","y":0.3519},
{"hour":"38","brix":"12.1","y":0.3018},
{"hour":"31","brix":"12.8","y":0.2516},
{"hour":"23","brix":"13.2","y":0.2014},
{"hour":"14","brix":"13.4","y":0.1513},
{"hour":"7","brix":"13.5","y":0.1011},
{"hour":"0","brix":"13.6","y":0.051}
]},
"mark": {"type": "text", "font": "Liberation Serif", "fontSize": 26, "align": "left", "baseline": "middle", "color": "black"},
"encoding": {"x": {"datum": 32.06, "type": "quantitative", "axis": null}, "y": {"field": "y", "type": "quantitative", "axis": null}, "text": {"field": "brix"}}
}
]
}
